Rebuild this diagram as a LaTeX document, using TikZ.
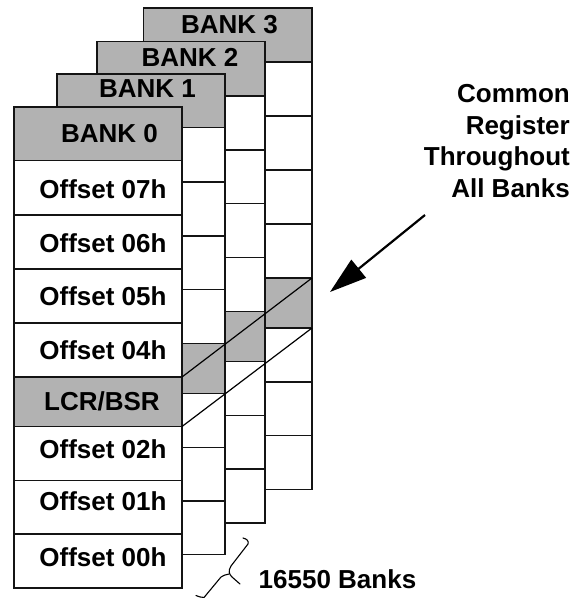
\documentclass[tikz,border=0pt]{standalone}
\usepackage{fontspec}
\setmainfont{Liberation Sans}
\usetikzlibrary{arrows.meta}
\definecolor{bankgray}{gray}{0.70}
\definecolor{inkblack}{gray}{0.08}
\tikzset{
  cellbox/.style={draw=inkblack,line width=1.4pt,fill=white,inner sep=0pt,outer sep=0pt},
  grayfill/.style={cellbox,fill=bankgray},
  celltext/.style={font=\bfseries\fontsize{26}{30}\selectfont,text=black,inner sep=0pt,anchor=center},
  sidetext/.style={font=\bfseries\fontsize{26}{31.8}\selectfont,text=black,inner sep=0pt,align=right},
  diagline/.style={draw=black,line width=1.2pt},
  pointer/.style={draw=black,line width=2.2pt,-{Triangle[length=37pt,width=23pt]}},
  bracket/.style={draw=black,line width=1.1pt,line cap=round,line join=round}
}
\newcommand\bankcell[6]{\node[#6,minimum width={(#3-#2)*1pt},minimum height={(#5-#4)*1pt}] (#1) at ({(#2+#3)/2},{(#4+#5)/2}) {};}
\begin{document}
\begin{tikzpicture}[x=1pt,y=-1pt]
\useasboundingbox (0,0) rectangle (574,598);
% Bank 3
\bankcell{ca}{143.5}{312}{8}{62}{grayfill}
\bankcell{cb}{143.5}{312}{62}{116}{cellbox}
\bankcell{cc}{143.5}{312}{116}{170}{cellbox}
\bankcell{cd}{143.5}{312}{170}{224}{cellbox}
\bankcell{ce}{143.5}{312}{224}{278}{cellbox}
\bankcell{cf}{143.5}{312}{278}{328}{grayfill}
\bankcell{cg}{143.5}{312}{328}{382}{cellbox}
\bankcell{ch}{143.5}{312}{382}{435.5}{cellbox}
\bankcell{ci}{143.5}{312}{435.5}{489.5}{cellbox}
% Bank 2
\bankcell{ba}{97}{265}{41.5}{96}{grayfill}
\bankcell{bb}{97}{265}{96}{150}{cellbox}
\bankcell{bc}{97}{265}{150}{203.5}{cellbox}
\bankcell{bd}{97}{265}{203.5}{257.5}{cellbox}
\bankcell{be}{97}{265}{257.5}{311.5}{cellbox}
\bankcell{bf}{97}{265}{311.5}{361.5}{grayfill}
\bankcell{bg}{97}{265}{361.5}{415.5}{cellbox}
\bankcell{bh}{97}{265}{415.5}{469}{cellbox}
\bankcell{bi}{97}{265}{469}{523}{cellbox}
% Bank 1
\bankcell{aa}{57}{225}{74}{127.5}{grayfill}
\bankcell{ab}{57}{225}{127.5}{182}{cellbox}
\bankcell{ac}{57}{225}{182}{236}{cellbox}
\bankcell{ad}{57}{225}{236}{289.5}{cellbox}
\bankcell{ae}{57}{225}{289.5}{343.5}{cellbox}
\bankcell{af}{57}{225}{343.5}{393.5}{grayfill}
\bankcell{ag}{57}{225}{393.5}{447.5}{cellbox}
\bankcell{ah}{57}{225}{447.5}{501}{cellbox}
\bankcell{ai}{57}{225}{501}{554.5}{cellbox}
% Bank 0
\bankcell{za}{14}{182}{107}{160.5}{grayfill}
\bankcell{zb}{14}{182}{160.5}{215}{cellbox}
\bankcell{zc}{14}{182}{215}{269}{cellbox}
\bankcell{zd}{14}{182}{269}{323}{cellbox}
\bankcell{ze}{14}{182}{323}{377}{cellbox}
\bankcell{zf}{14}{182}{377}{426.5}{grayfill}
\bankcell{zg}{14}{182}{426.5}{480.5}{cellbox}
\bankcell{zh}{14}{182}{480.5}{534}{cellbox}
\bankcell{zi}{14}{182}{534}{588}{cellbox}
% Texts
\node[celltext] (t3) at (229.5,25) {BANK 3};
\node[celltext] (t2) at (190,57) {BANK 2};
\node[celltext] (t1) at (147.5,89) {BANK 1};
\node[celltext] (t0) at (109.5,134) {BANK 0};
\node[celltext] (o7) at (103,189) {Offset 07h};
\node[celltext] (o6) at (103,243) {Offset 06h};
\node[celltext] (o5) at (103,296) {Offset 05h};
\node[celltext] (o4) at (103,350) {Offset 04h};
\node[celltext] (lb) at (102,401.5) {LCR/BSR};
\node[celltext] (o2) at (103,449) {Offset 02h};
\node[celltext] (o1) at (103,501.5) {Offset 01h};
\node[celltext] (o0) at (103,557) {Offset 00h};
\node[sidetext,anchor=north east] (common) at (570,84) {Common\\Register\\Throughout\\All Banks};
\node[celltext,anchor=west] (banks) at (258.5,579) {16550 Banks};
% Diagonals
\draw[diagline] (zf.north east) -- (cf.north east);
\draw[diagline] (zf.south east) -- (cf.south east);
% Arrow
\coordinate (arrowstart) at (425,215);
\coordinate (arrowtip) at (330,292);
\draw[pointer] (arrowstart) -- (arrowtip);
% Brace
\draw[bracket] (243,538) .. controls (247,539) and (249,541) .. (248,544)
  -- (231,566) .. controls (228,571) and (229,574) .. (232,577) -- (240,584);
\draw[bracket] (229,574) .. controls (226,575) and (223,575) .. (221,577)
  -- (204,597.5) .. controls (201,597) and (198,597) .. (196,595.5);
\end{tikzpicture}
\end{document}
